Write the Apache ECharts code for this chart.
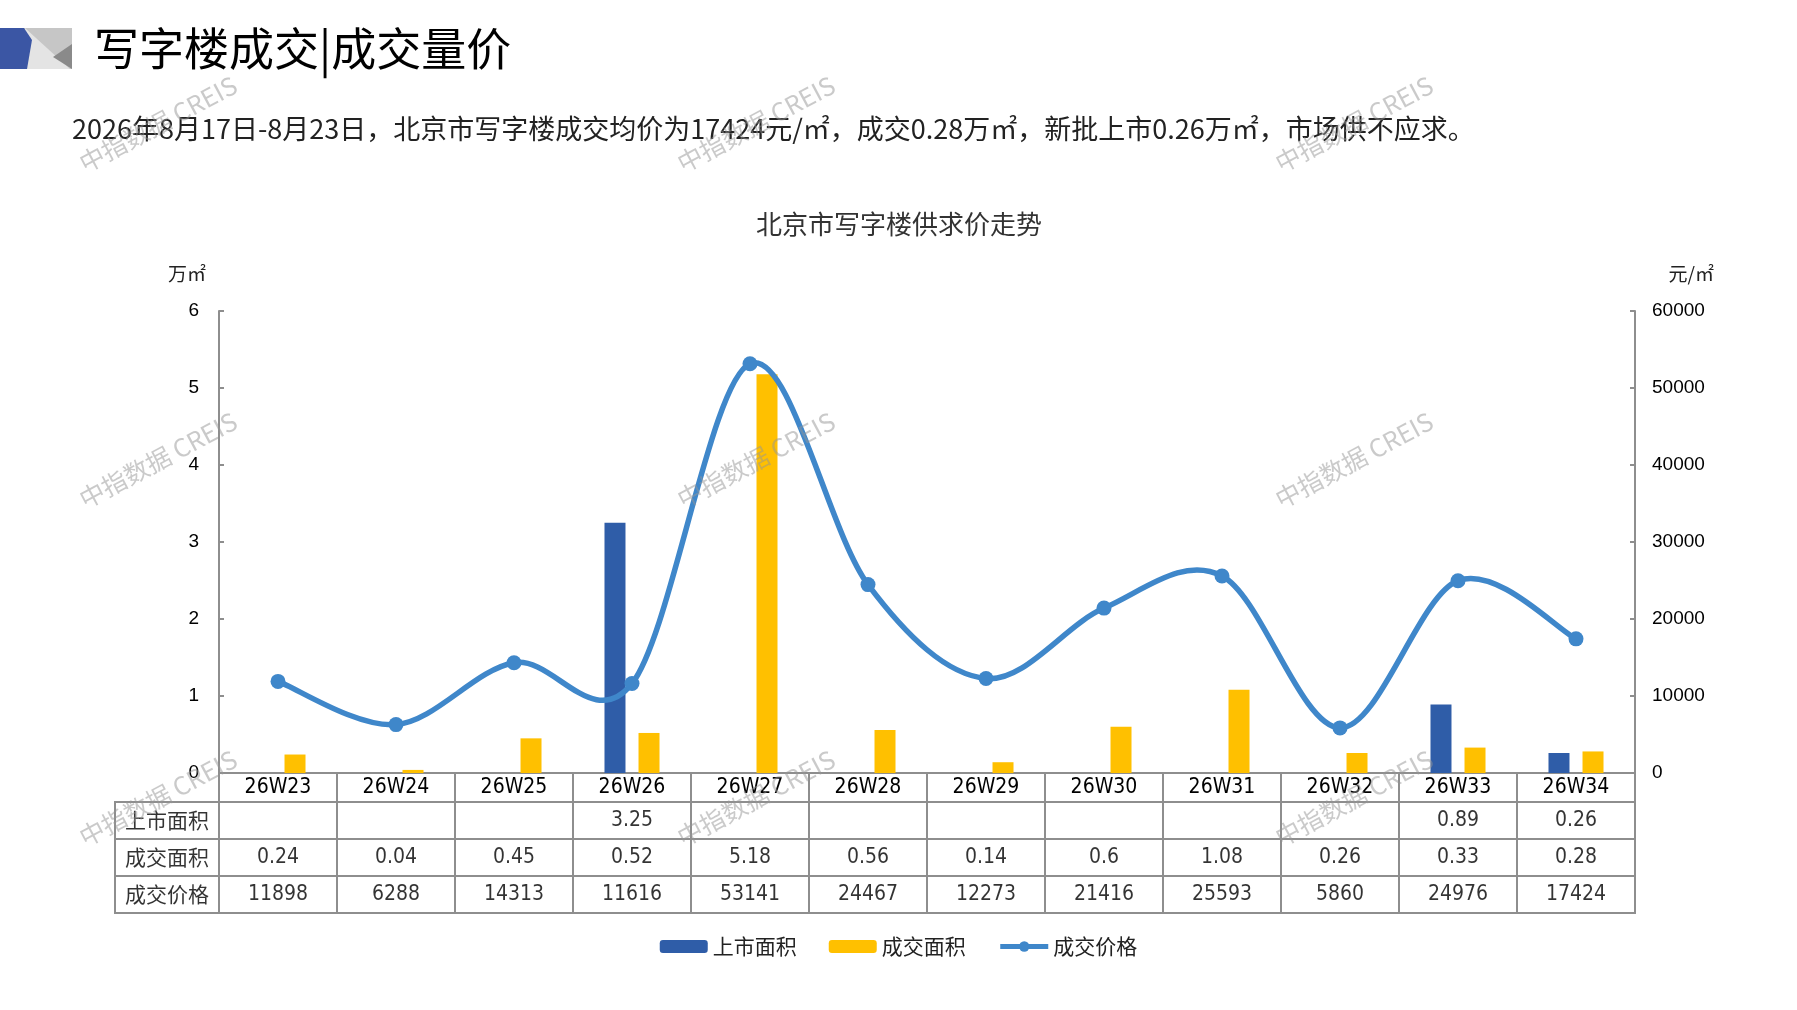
<!DOCTYPE html>
<html><head><meta charset="utf-8">
<script src="https://cdn.jsdelivr.net/npm/echarts@6/dist/echarts.min.js"></script>
<style>html,body{margin:0;padding:0;background:#fff}#c{width:1797px;height:1010px}</style>
</head><body><div id="c"></div>
<script>
const categories = ['26W23','26W24','26W25','26W26','26W27','26W28','26W29','26W30','26W31','26W32','26W33','26W34'];
const listedArea = [null,null,null,3.25,null,null,null,null,null,null,0.89,0.26];
const dealArea = [0.24,0.04,0.45,0.52,5.18,0.56,0.14,0.6,1.08,0.26,0.33,0.28];
const dealPrice = [11898,6288,14313,11616,53141,24467,12273,21416,25593,5860,24976,17424];
const seriesNames = ['上市面积','成交面积','成交价格'];
const tableRows = [listedArea, dealArea, dealPrice];
const leftAxisRange = {min:0, max:6, interval:1};
const rightAxisRange = {min:0, max:60000, interval:10000};
const mainTitle = '写字楼成交|成交量价';
const subTitle = '2026年8月17日-8月23日，北京市写字楼成交均价为17424元/㎡，成交0.28万㎡，新批上市0.26万㎡，市场供不应求。';
const chartTitle = '北京市写字楼供求价走势';
const leftUnit = '万㎡';
const rightUnit = '元/㎡';
const watermark = '中指数据 CREIS';

const CJK = '"Noto Sans CJK SC", sans-serif';
const NARROW = '"Liberation Sans Narrow", "DejaVu Sans Condensed", "Liberation Sans", sans-serif';
const SANS = '"Liberation Sans", Arial, sans-serif';
const BORDER = '#8e8e8e';
const LINE_COLOR = '#3f87ca';

const cellData = [];
tableRows.forEach((row, r) => row.forEach((v, i) => { if (v !== null) cellData.push([i, r, v]); }));
const headerData = seriesNames.map((n, r) => [0, r, n]);

// Excel-style smoothed curve through the price points (control points from neighbours, 1/6 tension)
function renderCurve(params, api) {
  if (params.dataIndex !== 0) return null;
  const pts = dealPrice.map((v, i) => api.coord([i, v]));
  const children = [];
  for (let i = 0; i < pts.length - 1; i++) {
    const p0 = pts[i - 1] || pts[i], p1 = pts[i], p2 = pts[i + 1], p3 = pts[i + 2] || pts[i + 1];
    children.push({type:'bezierCurve', silent:true, shape:{
      x1:p1[0], y1:p1[1], x2:p2[0], y2:p2[1],
      cpx1:p1[0] + (p2[0] - p0[0]) / 6, cpy1:p1[1] + (p2[1] - p0[1]) / 6,
      cpx2:p2[0] - (p3[0] - p1[0]) / 6, cpy2:p2[1] - (p3[1] - p1[1]) / 6},
      style:{stroke:LINE_COLOR, lineWidth:5.5, fill:'none', lineCap:'round'}});
  }
  return {type:'group', children};
}

const wmPos = [[158,124],[756,124],[1354,124],[158,460],[756,460],[1354,460],[158,798],[756,798],[1354,798]];
const graphics = [
  {type:'rect', shape:{x:20,y:28,width:52,height:41}, style:{fill:'#c6c6c6'}},
  {type:'polygon', shape:{points:[[25,28],[20,69],[70,69]]}, style:{fill:'#e4e4e4'}},
  {type:'polygon', shape:{points:[[72,44],[72,69],[53,57]]}, style:{fill:'#8a8a8a'}},
  {type:'polygon', shape:{points:[[0,28],[24,28],[32,40],[27,69],[0,69]]}, style:{fill:'#3b56a4'}},
  {type:'text', x:94, y:49, style:{text:mainTitle, font:'45px ' + CJK, fill:'#000', textVerticalAlign:'middle'}},
  {type:'text', x:72, y:129, style:{text:subTitle, font:'27px ' + CJK, fill:'#222', textVerticalAlign:'middle'}},
  {type:'text', x:899, y:224, style:{text:chartTitle, font:'26px ' + CJK, fill:'#333', textAlign:'center', textVerticalAlign:'middle'}},
  {type:'text', x:206, y:274, style:{text:leftUnit, font:'19px ' + CJK, fill:'#222', textAlign:'right', textVerticalAlign:'middle'}},
  {type:'text', x:1714, y:274, style:{text:rightUnit, font:'19px ' + CJK, fill:'#222', textAlign:'right', textVerticalAlign:'middle'}}
];
wmPos.forEach(p => graphics.push({type:'text', x:p[0], y:p[1], rotation:28*Math.PI/180, z:100,
  style:{text:watermark, font:'25px ' + CJK, fill:'rgba(150,150,150,0.5)', textAlign:'center', textVerticalAlign:'middle'}}));

const chart = echarts.init(document.getElementById('c'));
chart.setOption({
  animation:false,
  backgroundColor:'#fff',
  graphic:graphics,
  legend:{left:'center', top:931, itemWidth:48, itemHeight:13, itemGap:32,
    data:[seriesNames[0], seriesNames[1], {name:seriesNames[2], lineStyle:{color:LINE_COLOR, width:5, opacity:1}}],
    textStyle:{fontFamily:CJK, fontSize:21, color:'#222'}},
  grid:[
    {left:219, right:162, top:311, height:462},
    {left:219, right:162, top:773, height:29, show:true, borderColor:BORDER, borderWidth:2},
    {left:219, right:162, top:802, height:111, show:true, borderColor:BORDER, borderWidth:2},
    {left:115, width:104, top:802, height:111, show:true, borderColor:BORDER, borderWidth:2}
  ],
  xAxis:[
    {gridIndex:0, type:'category', data:categories, axisLine:{lineStyle:{color:BORDER, width:2}}, axisTick:{show:false},
      axisLabel:{margin:15, verticalAlign:'middle', fontFamily:NARROW, fontSize:21, color:'#000'}},
    {gridIndex:1, type:'category', data:categories, axisLine:{show:false}, axisTick:{show:false}, axisLabel:{show:false},
      splitLine:{show:true, lineStyle:{color:BORDER, width:2}}},
    {gridIndex:2, type:'category', data:categories, axisLine:{show:false}, axisTick:{show:false}, axisLabel:{show:false},
      splitLine:{show:true, lineStyle:{color:BORDER, width:2}}},
    {gridIndex:3, type:'category', data:['h'], axisLine:{show:false}, axisTick:{show:false}, axisLabel:{show:false}}
  ],
  yAxis:[
    {gridIndex:0, type:'value', min:leftAxisRange.min, max:leftAxisRange.max, interval:leftAxisRange.interval,
      axisLine:{show:true, lineStyle:{color:BORDER, width:2}}, axisTick:{show:true, inside:true, length:5, lineStyle:{color:BORDER, width:2}},
      splitLine:{show:false}, axisLabel:{margin:20, fontFamily:SANS, fontSize:19, color:'#000'}},
    {gridIndex:0, type:'value', position:'right', min:rightAxisRange.min, max:rightAxisRange.max, interval:rightAxisRange.interval,
      axisLine:{show:true, lineStyle:{color:BORDER, width:2}}, axisTick:{show:true, inside:true, length:5, lineStyle:{color:BORDER, width:2}},
      splitLine:{show:false}, axisLabel:{margin:17, fontFamily:SANS, fontSize:19, color:'#000', formatter:v => String(v)}},
    {gridIndex:1, type:'value', show:false},
    {gridIndex:2, type:'category', data:seriesNames, inverse:true, axisLine:{show:false}, axisTick:{show:false}, axisLabel:{show:false},
      splitLine:{show:true, lineStyle:{color:BORDER, width:2}}},
    {gridIndex:3, type:'category', data:seriesNames, inverse:true, axisLine:{show:false}, axisTick:{show:false}, axisLabel:{show:false},
      splitLine:{show:true, lineStyle:{color:BORDER, width:2}}}
  ],
  series:[
    {name:seriesNames[0], type:'bar', xAxisIndex:0, yAxisIndex:0, data:listedArea, barWidth:21, barGap:'62%', itemStyle:{color:'#2f5da8'}},
    {name:seriesNames[1], type:'bar', xAxisIndex:0, yAxisIndex:0, data:dealArea, barWidth:21, barGap:'62%', itemStyle:{color:'#ffc000'}},
    {type:'custom', xAxisIndex:0, yAxisIndex:1, data:dealPrice.map((v, i) => [i, v]), encode:{x:0, y:1},
      renderItem:renderCurve, silent:true, z:4},
    {name:seriesNames[2], type:'line', xAxisIndex:0, yAxisIndex:1, data:dealPrice, symbol:'circle', symbolSize:15,
      lineStyle:{width:5, color:LINE_COLOR, opacity:0}, itemStyle:{color:LINE_COLOR}, z:5},
    {type:'scatter', xAxisIndex:2, yAxisIndex:3, data:cellData, symbolSize:1, silent:true, itemStyle:{color:'rgba(0,0,0,0)'},
      label:{show:true, position:'inside', formatter:p => String(p.value[2]), fontFamily:NARROW, fontSize:21, color:'#000'}},
    {type:'scatter', xAxisIndex:3, yAxisIndex:4, data:headerData, symbolSize:1, silent:true, itemStyle:{color:'rgba(0,0,0,0)'},
      label:{show:true, position:'inside', formatter:p => p.value[2], fontFamily:CJK, fontSize:21, color:'#000'}}
  ]
});
</script></body></html>
